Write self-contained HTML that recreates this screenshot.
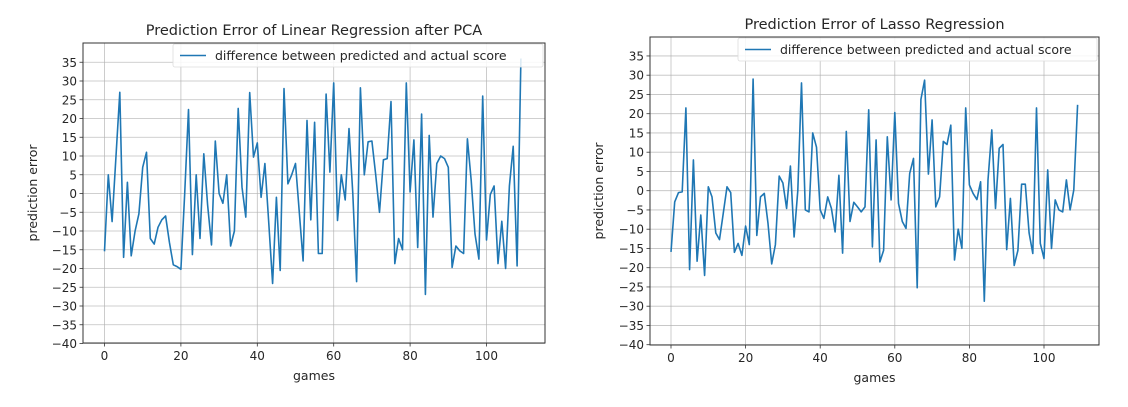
<!DOCTYPE html>
<html><head><meta charset="utf-8"><style>
html,body{margin:0;padding:0;background:#fff;}
svg text{font-family:"DejaVu Sans","Liberation Sans",sans-serif;fill:#262626;}
</style></head><body>
<svg id="svg" width="1128" height="402" xmlns="http://www.w3.org/2000/svg"></svg>
<script>
const xTicks=[0,20,40,60,80,100];
const yTicks=[35,30,25,20,15,10,5,0,-5,-10,-15,-20,-25,-30,-35,-40];
const linearErrors=[-15.4,5,-7.5,10,27,-17,3,-16.6,-10,-5.4,7,11,-12,-13.5,-9,-7,-6,-13,-19,-19.5,-20.2,0,22.4,-16.3,5,-12,10.6,-3,-13.7,14,0,-2.6,5,-14,-10,22.7,1.7,-6.3,26.9,9.7,13.5,-1,8,-8,-24,-1,-20.5,28,2.6,5,8,-5,-18,19.5,-7,19,-16,-16,26.5,5.7,29.5,-7.2,5,-1.7,17.3,0,-23.5,28.2,5,13.8,14,5,-5,9,9.3,24.5,-18.7,-12,-15,29.5,0.4,14.3,-14.4,21.2,-26.9,15.5,-6.3,8,10,9.3,7,-19.7,-14,-15.3,-16,14.6,3.5,-10.8,-17.5,26,-12.4,-0.3,2,-18.7,-7.4,-20,2,12.6,-19.3,36];
const lassoErrors=[-15.9,-2.9,-0.5,-0.3,21.5,-20.5,8,-18.3,-6.3,-22,1,-1.6,-11,-12.7,-6,1,-0.5,-16,-13.7,-16.8,-9.2,-14,29,-11.6,-1.6,-0.7,-8.5,-19,-14,3.8,2,-4.6,6.4,-12,0,28,-5,-5.5,15,11.3,-5,-7.2,-1.6,-4.6,-10.7,4,-16.2,15.4,-8,-3,-4.2,-5.5,-4.2,21,-14.6,13.2,-18.5,-15.5,14,-2.4,20.3,-3.3,-8,-9.8,4.5,8.4,-25.2,23.7,28.7,4.3,18.4,-4.2,-1.6,12.8,12,17,-18,-10,-15,21.5,1.5,-0.7,-2.3,2.3,-28.7,2.8,15.8,-4.6,11,12,-15.3,-2,-19.4,-15.5,1.7,1.7,-11,-16.3,21.5,-13.7,-17.6,5.4,-15,-2.4,-5,-5.5,2.8,-5,0.2,22.3];

const NS="http://www.w3.org/2000/svg";
const svg=document.getElementById('svg');
function mk(tag,attrs,parent){const e=document.createElementNS(NS,tag);for(const k in attrs)e.setAttribute(k,attrs[k]);(parent||svg).appendChild(e);return e;}
function fmt(v){return v<0?'\u2212'+Math.abs(v):String(v);}

function chart(cfg,data,prefix){
  const g=mk('g',{});
  
  
  const xs=v=>cfg.x0+v*cfg.xu;
  const ys=v=>cfg.y0-v*cfg.yu;
  // grid
  for(const t of yTicks){
    const l=mk('line',{x1:cfg.L,x2:cfg.R,y1:ys(t),y2:ys(t),stroke:'#b0b0b0','stroke-width':0.8,'stroke-opacity':0.8},g);
    
    
    const tk=mk('line',{x1:cfg.L-3.5,x2:cfg.L,y1:ys(t),y2:ys(t),stroke:'#333','stroke-width':0.8},g);
    
    
    const tx=mk('text',{x:cfg.L-6,y:ys(t)+4.5,'text-anchor':'end','font-size':12},g);
    tx.textContent=fmt(t);
    
    
  }
  for(const t of xTicks){
    const l=mk('line',{x1:xs(t),x2:xs(t),y1:cfg.T,y2:cfg.B,stroke:'#b0b0b0','stroke-width':0.8,'stroke-opacity':0.8},g);
    
    
    const tk=mk('line',{x1:xs(t),x2:xs(t),y1:cfg.B,y2:cfg.B+3.5,stroke:'#333','stroke-width':0.8},g);
    
    
    const tx=mk('text',{x:xs(t),y:cfg.B+17,'text-anchor':'middle','font-size':12},g);
    tx.textContent=fmt(t);
    
    
  }
  const pts=data.map((v,i)=>xs(i).toFixed(1)+','+ys(v).toFixed(1)).join(' ');
  const cp=mk('clipPath',{id:prefix+'clip'},g);
  mk('rect',{x:cfg.L,y:cfg.T,width:cfg.R-cfg.L,height:cfg.B-cfg.T},cp);
  const pl=mk('polyline',{points:pts,fill:'none',stroke:'#1f77b4','stroke-width':1.6,'stroke-linejoin':'round','clip-path':'url(#'+prefix+'clip)'},g);
  
  
  const fr=mk('rect',{x:cfg.L,y:cfg.T,width:cfg.R-cfg.L,height:cfg.B-cfg.T,fill:'none',stroke:'#333','stroke-width':1},g);
  
  
  // legend
  const lg=mk('g',{},g);
  
  
  mk('rect',{x:cfg.lx,y:cfg.T+1,width:cfg.R-cfg.lx-2,height:23,rx:2,fill:'#fff','fill-opacity':0.85,stroke:'#ddd','stroke-width':0.8},lg);
  mk('line',{x1:cfg.lx+7,x2:cfg.lx+33,y1:cfg.T+12.5,y2:cfg.T+12.5,stroke:'#1f77b4','stroke-width':1.6},lg);
  const lt=mk('text',{x:cfg.lx+42,y:cfg.T+17,'font-size':12.5},lg);
  lt.textContent='difference between predicted and actual score';
  
  
  const ti=mk('text',{x:(cfg.L+cfg.R)/2,y:cfg.T-8,'text-anchor':'middle','font-size':14.5},g);
  ti.textContent=cfg.title;
  
  
  const xl=mk('text',{x:(cfg.L+cfg.R)/2,y:cfg.B+37,'text-anchor':'middle','font-size':12.5},g);
  xl.textContent='games';
  
  
  const yl=mk('text',{x:0,y:0,'text-anchor':'middle','font-size':12.5,transform:'translate('+cfg.ylx+','+(cfg.T+cfg.B)/2+') rotate(-90)'},g);
  yl.textContent='prediction error';
  
  
}
chart({L:83,R:545,T:43,B:343,x0:104.5,xu:3.82,y0:193.5,yu:3.75,lx:173,ylx:37,title:'Prediction Error of Linear Regression after PCA'},linearErrors,'linear');
chart({L:650,R:1099,T:37,B:345,x0:671,xu:3.73,y0:190.7,yu:3.85,lx:738,ylx:603,title:'Prediction Error of Lasso Regression'},lassoErrors,'lasso');
</script>
</body></html>
